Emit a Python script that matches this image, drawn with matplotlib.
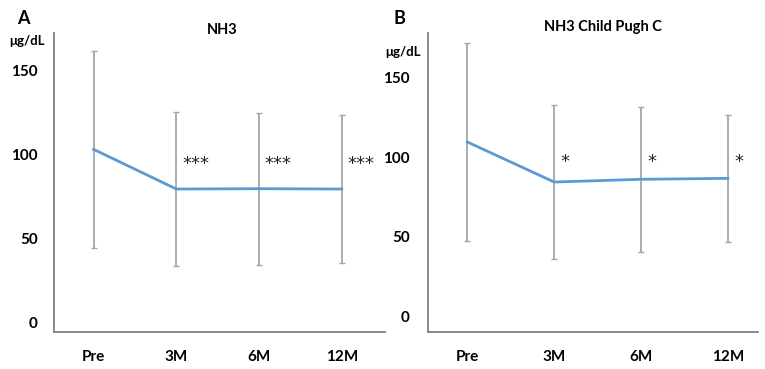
import matplotlib
matplotlib.use("Agg")
import matplotlib.pyplot as plt

plt.rcParams['font.family'] = ['Lato', 'DejaVu Sans']

months = ["Pre", "3M", "6M", "12M"]
yticks = [0, 50, 100, 150]

# panel A: NH3, all patients
nh3_mean = [103.2, 79.6, 79.8, 79.6]
nh3_err = [58.7, 46.0, 45.3, 44.0]
nh3_sig = ["***", "***", "***"]

# panel B: NH3, Child Pugh C
cpc_mean = [109.5, 84.4, 86.1, 86.7]
cpc_err = [62.0, 48.4, 45.3, 39.7]
cpc_sig = ["*", "*", "*"]

line_col = "#5b9bd5"
bar_col = "#a6a6a6"
axis_col = "#808080"

fig = plt.figure(figsize=(7.65, 3.69), dpi=100)


def panel(rect, mean, err, sig, title, letter, ylim, xlim, sig_y, sig_dx, ypad,
          unit_xy, letter_xy, title_xy):
    ax = fig.add_axes(rect)
    x = list(range(len(months)))
    ax.errorbar(x, mean, yerr=err, fmt="none", ecolor=bar_col, elinewidth=1.3,
                capsize=2, capthick=1.0, zorder=1)
    ax.plot(x, mean, color=line_col, lw=2.0, zorder=2)
    for i, s in enumerate(sig):
        ax.text(x[i + 1] + sig_dx, sig_y, s, ha="left", va="center", fontsize=13,
                color="#222222", family="DejaVu Sans")
    ax.set_xlim(*xlim)
    ax.set_ylim(*ylim)
    ax.set_xticks(x)
    ax.set_xticklabels(months, fontsize=11, fontweight="bold")
    ax.set_yticks(yticks)
    ax.set_yticklabels([str(v) for v in yticks], fontsize=11, fontweight="bold")
    ax.tick_params(axis="x", length=0, pad=13)
    ax.tick_params(axis="y", length=0, pad=ypad)
    for s in ["top", "right"]:
        ax.spines[s].set_visible(False)
    for s in ["left", "bottom"]:
        ax.spines[s].set_color(axis_col)
        ax.spines[s].set_linewidth(1.3)
    fig.text(*unit_xy, "μg/dL", fontsize=9.5, fontweight="bold", ha="center", va="center")
    fig.text(*letter_xy, letter, fontsize=13, fontweight="bold", ha="center", va="center")
    fig.text(*title_xy, title, fontsize=10.5, fontweight="bold", ha="center", va="center")
    return ax


axA = panel([54.3 / 765, 1 - 332 / 369, (385 - 54.3) / 765, (332 - 33.3) / 369],
            nh3_mean, nh3_err, nh3_sig, "NH3", "A",
            (-5.5, 172.3), (-0.476, 3.522), 94.3, 0.07, 12,
            (27.5 / 765, 1 - 40.7 / 369), (23 / 765, 1 - 19 / 369),
            (222.7 / 765, 1 - 30.3 / 369))

axB = panel([427.7 / 765, 1 - 331.7 / 369, (758.3 - 427.7) / 765, (331.7 - 33.3) / 369],
            cpc_mean, cpc_err, cpc_sig, "NH3 Child Pugh C", "B",
            (-9.4, 177.6), (-0.456, 3.35), 96.7, 0.07, 13,
            (402.7 / 765, 1 - 52.3 / 369), (399.3 / 765, 1 - 18.3 / 369),
            (602.7 / 765, 1 - 27.3 / 369))

fig.savefig("out.png", dpi=100)
